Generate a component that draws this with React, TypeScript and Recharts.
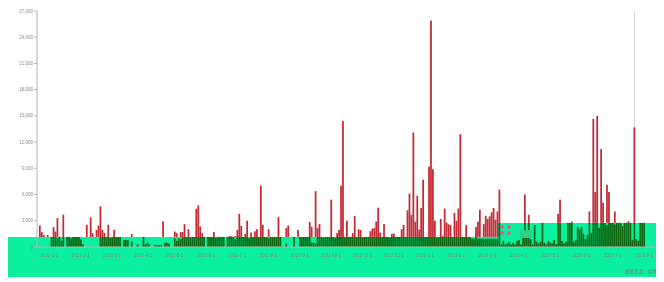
import React from 'react';
import { BarChart, Bar, XAxis, YAxis, ReferenceLine } from 'recharts';

// daily counts, 16 bars per tick interval
const redValues = [
  0, 2460, 1700, 1380, 900, 1380, 0, 600, 2270, 1770, 3310, 800, 0, 3690, 0, 0,
  0, 0, 0, 0, 0, 0, 0, 0, 0, 2540, 0, 3380, 1580, 0, 1960, 2460,
  4650, 1960, 1600, 0, 2540, 0, 0, 1960, 0, 0, 0, 0, 0, 0, 0, 0,
  1500, 0, 0, 0, 0, 0, 0, 0, 0, 0, 0, 0, 0, 0, 0, 0,
  2920, 0, 0, 0, 0, 0, 1770, 1580, 0, 1700, 1700, 2620, 0, 2040, 0, 0,
  0, 4380, 4760, 2340, 1580, 0, 0, 0, 0, 0, 1700, 0, 0, 0, 0, 0,
  0, 0, 1250, 1250, 0, 1250, 1960, 3800, 2420, 0, 1500, 3000, 0, 1650, 0, 1800,
  2040, 0, 7000, 2540, 0, 0, 2040, 0, 0, 0, 0, 3420, 0, 0, 0, 2160,
  2460, 0, 0, 0, 0, 1960, 0, 0, 0, 0, 0, 2860, 2330, 0, 6380, 2160,
  2620, 0, 0, 0, 0, 0, 5420, 0, 0, 1580, 1960, 7000, 14400, 0, 3000, 0,
  0, 1580, 3540, 0, 2040, 1960, 0, 0, 0, 0, 1800, 2100, 2160, 2920, 4500, 1650,
  0, 2620, 0, 0, 0, 1500, 1550, 0, 0, 0, 2040, 2540, 0, 4200, 6100, 3700,
  13100, 2900, 5870, 2000, 4470, 7700, 0, 0, 9200, 25900, 8900, 3000, 0, 0, 3200, 1250,
  4400, 2800, 2600, 2500, 0, 3900, 3000, 4400, 12900, 0, 0, 2500, 0, 0, 0, 0,
  2300, 2900, 4270, 0, 2620, 3570, 3200, 3500, 3960, 4470, 3130, 4070, 6570, 0, 0, 0,
  0, 0, 0, 0, 0, 0, 0, 0, 0, 6000, 0, 3690, 0, 0, 0, 0,
  0, 0, 0, 0, 0, 0, 0, 0, 0, 0, 3790, 5420, 0, 0, 0, 0,
  0, 2920, 0, 0, 0, 0, 0, 0, 0, 0, 4070, 0, 14650, 6300, 15000, 0,
  11200, 5070, 0, 7120, 6300, 0, 0, 4070, 0, 0, 0, 0, 0, 0, 2960, 0,
  0, 13700, 0, 0, 0, 0, 0, 0, 0, 0, 0, 0,
];

const greenValues = [
  0, 0, 0, 0, 0, 0, 0, 1150, 1150, 1150, 1000, 1150, 700, 1150, 0, 1150,
  1150, 1000, 1150, 1150, 1150, 1150, 900, 300, 0, 0, 0, 0, 0, 0, 0, 0,
  1150, 1150, 1150, 1150, 1150, 1050, 1150, 1150, 1150, 1150, 1150, 0, 800, 800, 800, 0,
  600, 0, 0, 300, 0, 0, 1150, 300, 500, 300, 0, 0, 230, 230, 230, 230,
  0, 500, 500, 400, 0, 0, 1000, 700, 1000, 900, 1150, 1150, 1150, 1150, 1150, 1150,
  1150, 1150, 1150, 1150, 1150, 1150, 0, 1150, 1150, 1150, 1150, 1050, 1150, 1150, 1150, 1150,
  0, 1150, 1150, 1150, 1150, 900, 1150, 1150, 1150, 1150, 1150, 1150, 1000, 1150, 1150, 1150,
  1150, 1150, 1150, 1150, 1150, 1150, 1000, 1150, 1150, 1150, 1150, 1150, 1150, 0, 0, 400,
  0, 0, 0, 1150, 0, 0, 1150, 1150, 1150, 1150, 1150, 1150, 500, 500, 400, 1150,
  1150, 1150, 1100, 1150, 1150, 1150, 1150, 1150, 1050, 1150, 1150, 1150, 1150, 1150, 1150, 1150,
  1150, 1150, 1150, 1150, 1150, 1150, 1100, 1150, 1150, 1150, 1150, 1150, 1150, 1150, 1150, 1150,
  1150, 1150, 1150, 1150, 1100, 1150, 1150, 1150, 1150, 1150, 1150, 1150, 1150, 1150, 1150, 1150,
  1150, 1150, 1150, 1150, 1150, 1150, 1150, 1150, 1150, 1150, 1150, 1150, 1100, 1150, 1150, 1150,
  1150, 1150, 1150, 1150, 1150, 1150, 1150, 1150, 1150, 1150, 1150, 1150, 1150, 1150, 950, 950,
  1150, 950, 950, 950, 950, 950, 950, 950, 950, 950, 950, 950, 2760, 300, 700, 300,
  400, 600, 300, 500, 300, 700, 800, 300, 1200, 2760, 1700, 2760, 900, 300, 2500, 600,
  400, 600, 2760, 500, 300, 700, 500, 400, 800, 300, 2760, 2760, 700, 400, 600, 2760,
  2760, 2760, 600, 800, 2300, 2000, 2300, 1500, 900, 1400, 2760, 1600, 2760, 2760, 2760, 2200,
  2760, 2760, 2760, 2500, 2760, 2760, 2760, 2600, 2760, 2760, 2760, 2400, 2760, 2760, 2760, 2760,
  800, 2760, 900, 700, 2760, 2760, 2760, 0, 0, 0, 0, 0,
];

const tickIdx = [6, 22, 38, 54, 70, 86, 102, 118, 134, 150, 166, 182, 198, 214, 230, 246, 262, 278, 294, 310];
const tickLabels = [
  '2022-1-1', '2022-2-1', '2022-3-1', '2022-4-1', '2022-5-1', '2022-6-1', '2022-7-1',
  '2022-8-1', '2022-9-1', '2022-10-1', '2022-11-1', '2022-12-1', '2023-1-1', '2023-2-1',
  '2023-3-1', '2023-4-1', '2023-5-1', '2023-6-1', '2023-7-1', '2023-8-1',
];
const yTicks = [0, 3000, 6000, 9000, 12000, 15000, 18000, 21000, 24000, 27000];

const CURSOR_IDX = 305;
const RAISED_FROM = 236;
const LOW_COVER = 1150;
const HIGH_COVER = 2760;
const MINT = '#0af09f';

const data = redValues.map((v, i) => ({ idx: i, red: v, green: greenValues[i] }));

const labelFor = (i: number) => {
  const k = tickIdx.indexOf(i);
  return k >= 0 ? tickLabels[k] : '';
};

// only the part of the red bar above the mint band is visible
const RedTop = (props: any) => {
  const { x, y, width, height, payload } = props;
  const v = payload.red;
  const cover = payload.idx >= RAISED_FROM ? HIGH_COVER : LOW_COVER;
  if (!v || v <= cover || !(height > 0)) return <g />;
  const h = (height * (v - cover)) / v;
  return <rect x={x} y={y} width={width} height={h} fill="#c42a34" />;
};

export default function App() {
  return (
    <div style={{ position: 'relative', width: 650, height: 270, fontFamily: '"Liberation Sans", Arial, sans-serif' }}>
      <div style={{ position: 'absolute', left: 0, top: 229, width: 650, height: 40, background: MINT }} />
      <div style={{ position: 'absolute', left: 490, top: 215, width: 160, height: 14, background: MINT }} />
      <div style={{ position: 'relative' }}>
        <BarChart
          width={650}
          height={262}
          data={data}
          margin={{ top: 3, right: 3, bottom: 5, left: 0 }}
          barCategoryGap={0}
          barGap={0}
        >
          <ReferenceLine
            xAxisId="a"
            segment={[
              { x: CURSOR_IDX, y: redValues[CURSOR_IDX] },
              { x: CURSOR_IDX, y: 27000 },
            ]}
            stroke="#d6d6d6"
          />
          <XAxis
            xAxisId="a"
            dataKey="idx"
            interval={0}
            tickFormatter={labelFor}
            tick={{ fontSize: 4.5, fill: '#8a8a8a' }}
            tickLine={false}
            tickMargin={1}
            height={18}
            axisLine={{ stroke: '#b5b5b5' }}
          />
          <XAxis xAxisId="b" dataKey="idx" hide />
          <YAxis
            domain={[0, 27000]}
            ticks={yTicks}
            width={29}
            tickFormatter={(v: number) => v.toLocaleString('en-US')}
            tick={{ fontSize: 4.5, fill: '#8a8a8a' }}
            tickSize={3}
            tickMargin={1}
            axisLine={{ stroke: '#b5b5b5' }}
            tickLine={{ stroke: '#b5b5b5' }}
          />
          <Bar xAxisId="a" dataKey="red" barSize={2} shape={<RedTop />} isAnimationActive={false} />
          <Bar xAxisId="b" dataKey="green" barSize={2} fill="#0e6a12" isAnimationActive={false} />
        </BarChart>
      </div>
      <svg
        width={650}
        height={270}
        style={{ position: 'absolute', left: 0, top: 0, pointerEvents: 'none' }}
      >
        <rect x={512} y={222} width={12} height={8} fill="#2fcf8a" />
        <g stroke="#ff4595" strokeWidth={1.4}>
          <path d="M492 219 h4 M494 217 v4 M499 219 h4 M501 217 v4" />
          <path d="M492 225 h4 M494 223 v4 M499 225 h4 M501 223 v4" />
        </g>
        <text
          x={649}
          y={265}
          textAnchor="end"
          fontSize={4.5}
          fill="#7a7a7a"
          fontFamily='"Noto Sans CJK SC", sans-serif'
        >
          数据来源：微博
        </text>
      </svg>
    </div>
  );
}
